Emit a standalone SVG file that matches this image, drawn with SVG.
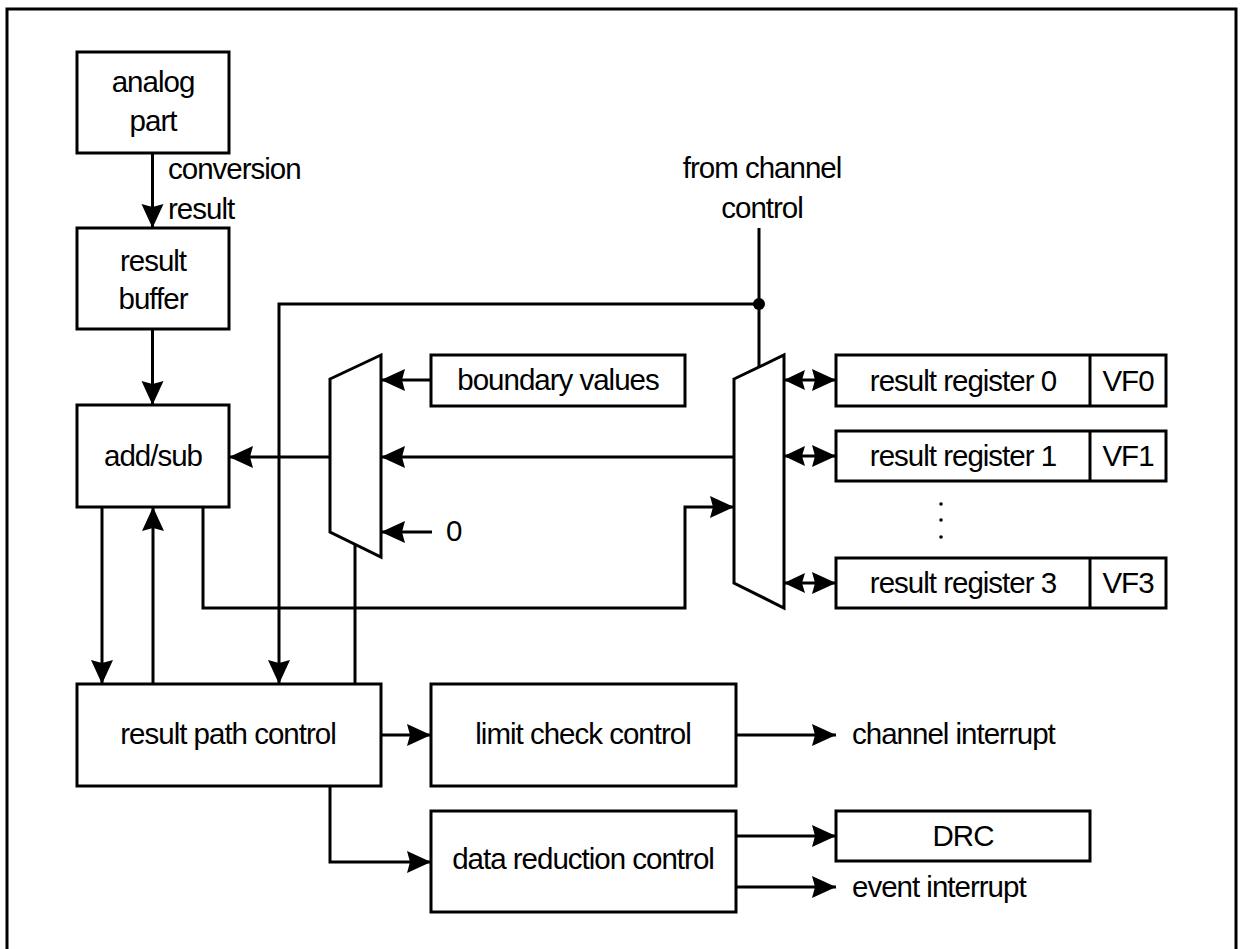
<svg xmlns="http://www.w3.org/2000/svg" width="1241" height="949" viewBox="0 0 1241 949">
<style>
.box{fill:#fff;stroke:#000;stroke-width:3}
.w{fill:none;stroke:#000;stroke-width:3}
.a{marker-end:url(#ah)}
.b{marker-start:url(#ahs);marker-end:url(#ah)}
text{font-family:"Liberation Sans",Arial,sans-serif;font-size:29.5px;letter-spacing:-1px;fill:#000}
.c{text-anchor:middle}
</style>
<defs>
<marker id="ah" markerUnits="userSpaceOnUse" markerWidth="26" markerHeight="24" refX="24" refY="11" orient="auto" overflow="visible">
<path d="M0,0 L24,11 L0,22 L3,11 z" fill="#000"/>
</marker>
<marker id="ahs" markerUnits="userSpaceOnUse" markerWidth="24" markerHeight="24" refX="0" refY="11" orient="auto" overflow="visible">
<path d="M21,1 L0,11 L21,21 L18,11 z" fill="#000"/>
</marker>
</defs>
<rect x="0" y="0" width="1241" height="949" fill="#fff"/>
<rect x="7" y="9" width="1229" height="960" fill="none" stroke="#000" stroke-width="3"/>

<g id="connectors">
<line class="w a" x1="152.5" y1="153" x2="152.5" y2="228"/>
<line class="w a" x1="152.5" y1="329" x2="152.5" y2="405"/>
<line class="w a" x1="431" y1="380" x2="381" y2="380"/>
<line class="w a" x1="330" y1="457" x2="229" y2="457"/>
<line class="w a" x1="734" y1="457" x2="381" y2="457"/>
<line class="w a" x1="432" y1="532" x2="381" y2="532"/>
<line class="w" x1="759" y1="228" x2="759" y2="367"/>
<polyline class="w a" points="759,304 279,304 279,684"/>
<circle cx="759" cy="304" r="6" fill="#000"/>
<line class="w a" x1="102" y1="507" x2="102" y2="684"/>
<line class="w a" x1="153" y1="684" x2="153" y2="507"/>
<polyline class="w a" points="203,507 203,608 685,608 685,507 734,507"/>
<line class="w" x1="355" y1="544" x2="355" y2="684"/>
<line class="w b" x1="784" y1="380" x2="836" y2="380"/>
<line class="w b" x1="784" y1="456" x2="836" y2="456"/>
<line class="w b" x1="784" y1="583" x2="836" y2="583"/>
<line class="w a" x1="381" y1="735" x2="431" y2="735"/>
<polyline class="w a" points="330,786 330,862 431,862"/>
<line class="w a" x1="736" y1="735" x2="836" y2="735"/>
<line class="w a" x1="736" y1="836" x2="836" y2="836"/>
<line class="w a" x1="736" y1="887" x2="836" y2="887"/>
</g>

<g id="analog-part">
<rect class="box" x="77" y="52" width="152" height="101"/>
<text class="c" x="153" y="92">analog</text>
<text class="c" x="153" y="131">part</text>
</g>
<g id="conversion-label">
<text x="168" y="179">conversion</text>
<text x="168" y="219">result</text>
</g>
<g id="result-buffer">
<rect class="box" x="77" y="228" width="152" height="101"/>
<text class="c" x="153" y="271">result</text>
<text class="c" x="153" y="309">buffer</text>
</g>
<g id="add-sub">
<rect class="box" x="77" y="405" width="152" height="102"/>
<text class="c" x="153" y="466">add/sub</text>
</g>
<g id="mux-left">
<polygon class="box" points="330,379 381,355 381,557 330,532"/>
</g>
<g id="boundary-values">
<rect class="box" x="431" y="355" width="254" height="51"/>
<text class="c" x="558" y="390">boundary values</text>
</g>
<g id="zero-label">
<text x="446" y="541">0</text>
</g>
<g id="from-channel-control">
<text class="c" x="762" y="178">from channel</text>
<text class="c" x="762" y="218">control</text>
</g>
<g id="mux-right">
<polygon class="box" points="734,379 784,355 784,608 734,583"/>
</g>
<g id="result-register-0">
<rect class="box" x="836" y="355" width="330" height="51"/>
<line class="w" x1="1090" y1="355" x2="1090" y2="406"/>
<text class="c" x="963" y="391">result register 0</text>
<text class="c" x="1128" y="391">VF0</text>
</g>
<g id="result-register-1">
<rect class="box" x="836" y="431" width="330" height="50"/>
<line class="w" x1="1090" y1="431" x2="1090" y2="481"/>
<text class="c" x="963" y="466">result register 1</text>
<text class="c" x="1128" y="466">VF1</text>
</g>
<g id="ellipsis">
<circle cx="941" cy="504" r="1.8" fill="#000"/>
<circle cx="941" cy="520" r="1.8" fill="#000"/>
<circle cx="941" cy="537" r="1.8" fill="#000"/>
</g>
<g id="result-register-3">
<rect class="box" x="836" y="558" width="330" height="50"/>
<line class="w" x1="1090" y1="558" x2="1090" y2="608"/>
<text class="c" x="963" y="593">result register 3</text>
<text class="c" x="1128" y="593">VF3</text>
</g>
<g id="result-path-control">
<rect class="box" x="77" y="684" width="304" height="102"/>
<text class="c" x="228" y="744">result path control</text>
</g>
<g id="limit-check-control">
<rect class="box" x="431" y="684" width="305" height="102"/>
<text class="c" x="583" y="744">limit check control</text>
</g>
<g id="channel-interrupt">
<text x="852" y="744">channel interrupt</text>
</g>
<g id="data-reduction-control">
<rect class="box" x="431" y="811" width="305" height="101"/>
<text class="c" x="583" y="869">data reduction control</text>
</g>
<g id="drc">
<rect class="box" x="836" y="811" width="254" height="50"/>
<text class="c" x="963" y="846">DRC</text>
</g>
<g id="event-interrupt">
<text x="852" y="897">event interrupt</text>
</g>
</svg>
